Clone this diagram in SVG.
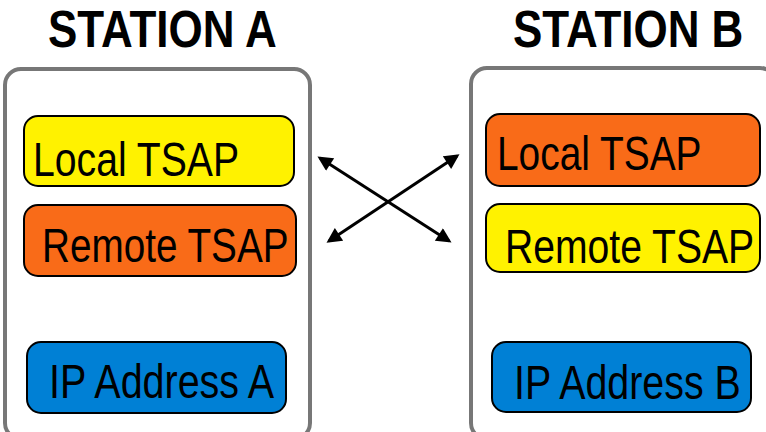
<svg xmlns="http://www.w3.org/2000/svg" width="766" height="432" viewBox="0 0 766 432">
<defs>
<style>
.title{font-family:"Liberation Sans",Arial,sans-serif;font-weight:bold;font-size:51px;fill:#000}
.lbl{font-family:"Liberation Sans",Arial,sans-serif;font-size:48px;fill:#000}
.station{fill:#fff;stroke:#777;stroke-width:4}
.box{stroke:#000;stroke-width:2}
.y{fill:#fff200}
.o{fill:#f96b18}
.b{fill:#0080d5}
.conn{stroke:#000;stroke-width:3;fill:none;marker-start:url(#ah);marker-end:url(#ah)}
</style>
<marker id="ah" viewBox="0 0 10 10" refX="8" refY="5" markerWidth="5.5" markerHeight="5" orient="auto-start-reverse" markerUnits="strokeWidth">
<path d="M0,0 L10,5 L0,10 z" fill="#000"/>
</marker>
</defs>
<g id="station-a">
<text class="title" transform="translate(48,47) scale(0.862,1)" x="0" y="0">STATION A</text>
<rect class="station" x="5" y="69" width="305" height="370" rx="16"/>
<g id="a-local"><rect class="box y" x="24" y="116" width="270" height="70" rx="14"/>
<text class="lbl" transform="translate(33,176) scale(0.816,1)" x="0" y="0">Local TSAP</text></g>
<g id="a-remote"><rect class="box o" x="24" y="205" width="272" height="71" rx="14"/>
<text class="lbl" transform="translate(42,262) scale(0.806,1)" x="0" y="0">Remote TSAP</text></g>
<g id="a-ip"><rect class="box b" x="27" y="342" width="259" height="71" rx="14"/>
<text class="lbl" transform="translate(49,398) scale(0.822,1)" x="0" y="0">IP Address A</text></g>
</g>
<g id="station-b">
<text class="title" transform="translate(513,47) scale(0.862,1)" x="0" y="0">STATION B</text>
<rect class="station" x="471" y="68" width="305" height="371" rx="16"/>
<g id="b-local"><rect class="box o" x="486" y="114" width="274" height="72" rx="14"/>
<text class="lbl" transform="translate(497,170) scale(0.81,1)" x="0" y="0">Local TSAP</text></g>
<g id="b-remote"><rect class="box y" x="486" y="204" width="274" height="68" rx="14"/>
<text class="lbl" transform="translate(505,263) scale(0.815,1)" x="0" y="0">Remote TSAP</text></g>
<g id="b-ip"><rect class="box b" x="492" y="342" width="259" height="70" rx="14"/>
<text class="lbl" transform="translate(514,399) scale(0.82,1)" x="0" y="0">IP Address B</text></g>
</g>
<g id="connectors">
<line class="conn" x1="320" y1="158" x2="449" y2="241"/>
<line class="conn" x1="457" y1="156" x2="329" y2="241"/>
</g>
</svg>
